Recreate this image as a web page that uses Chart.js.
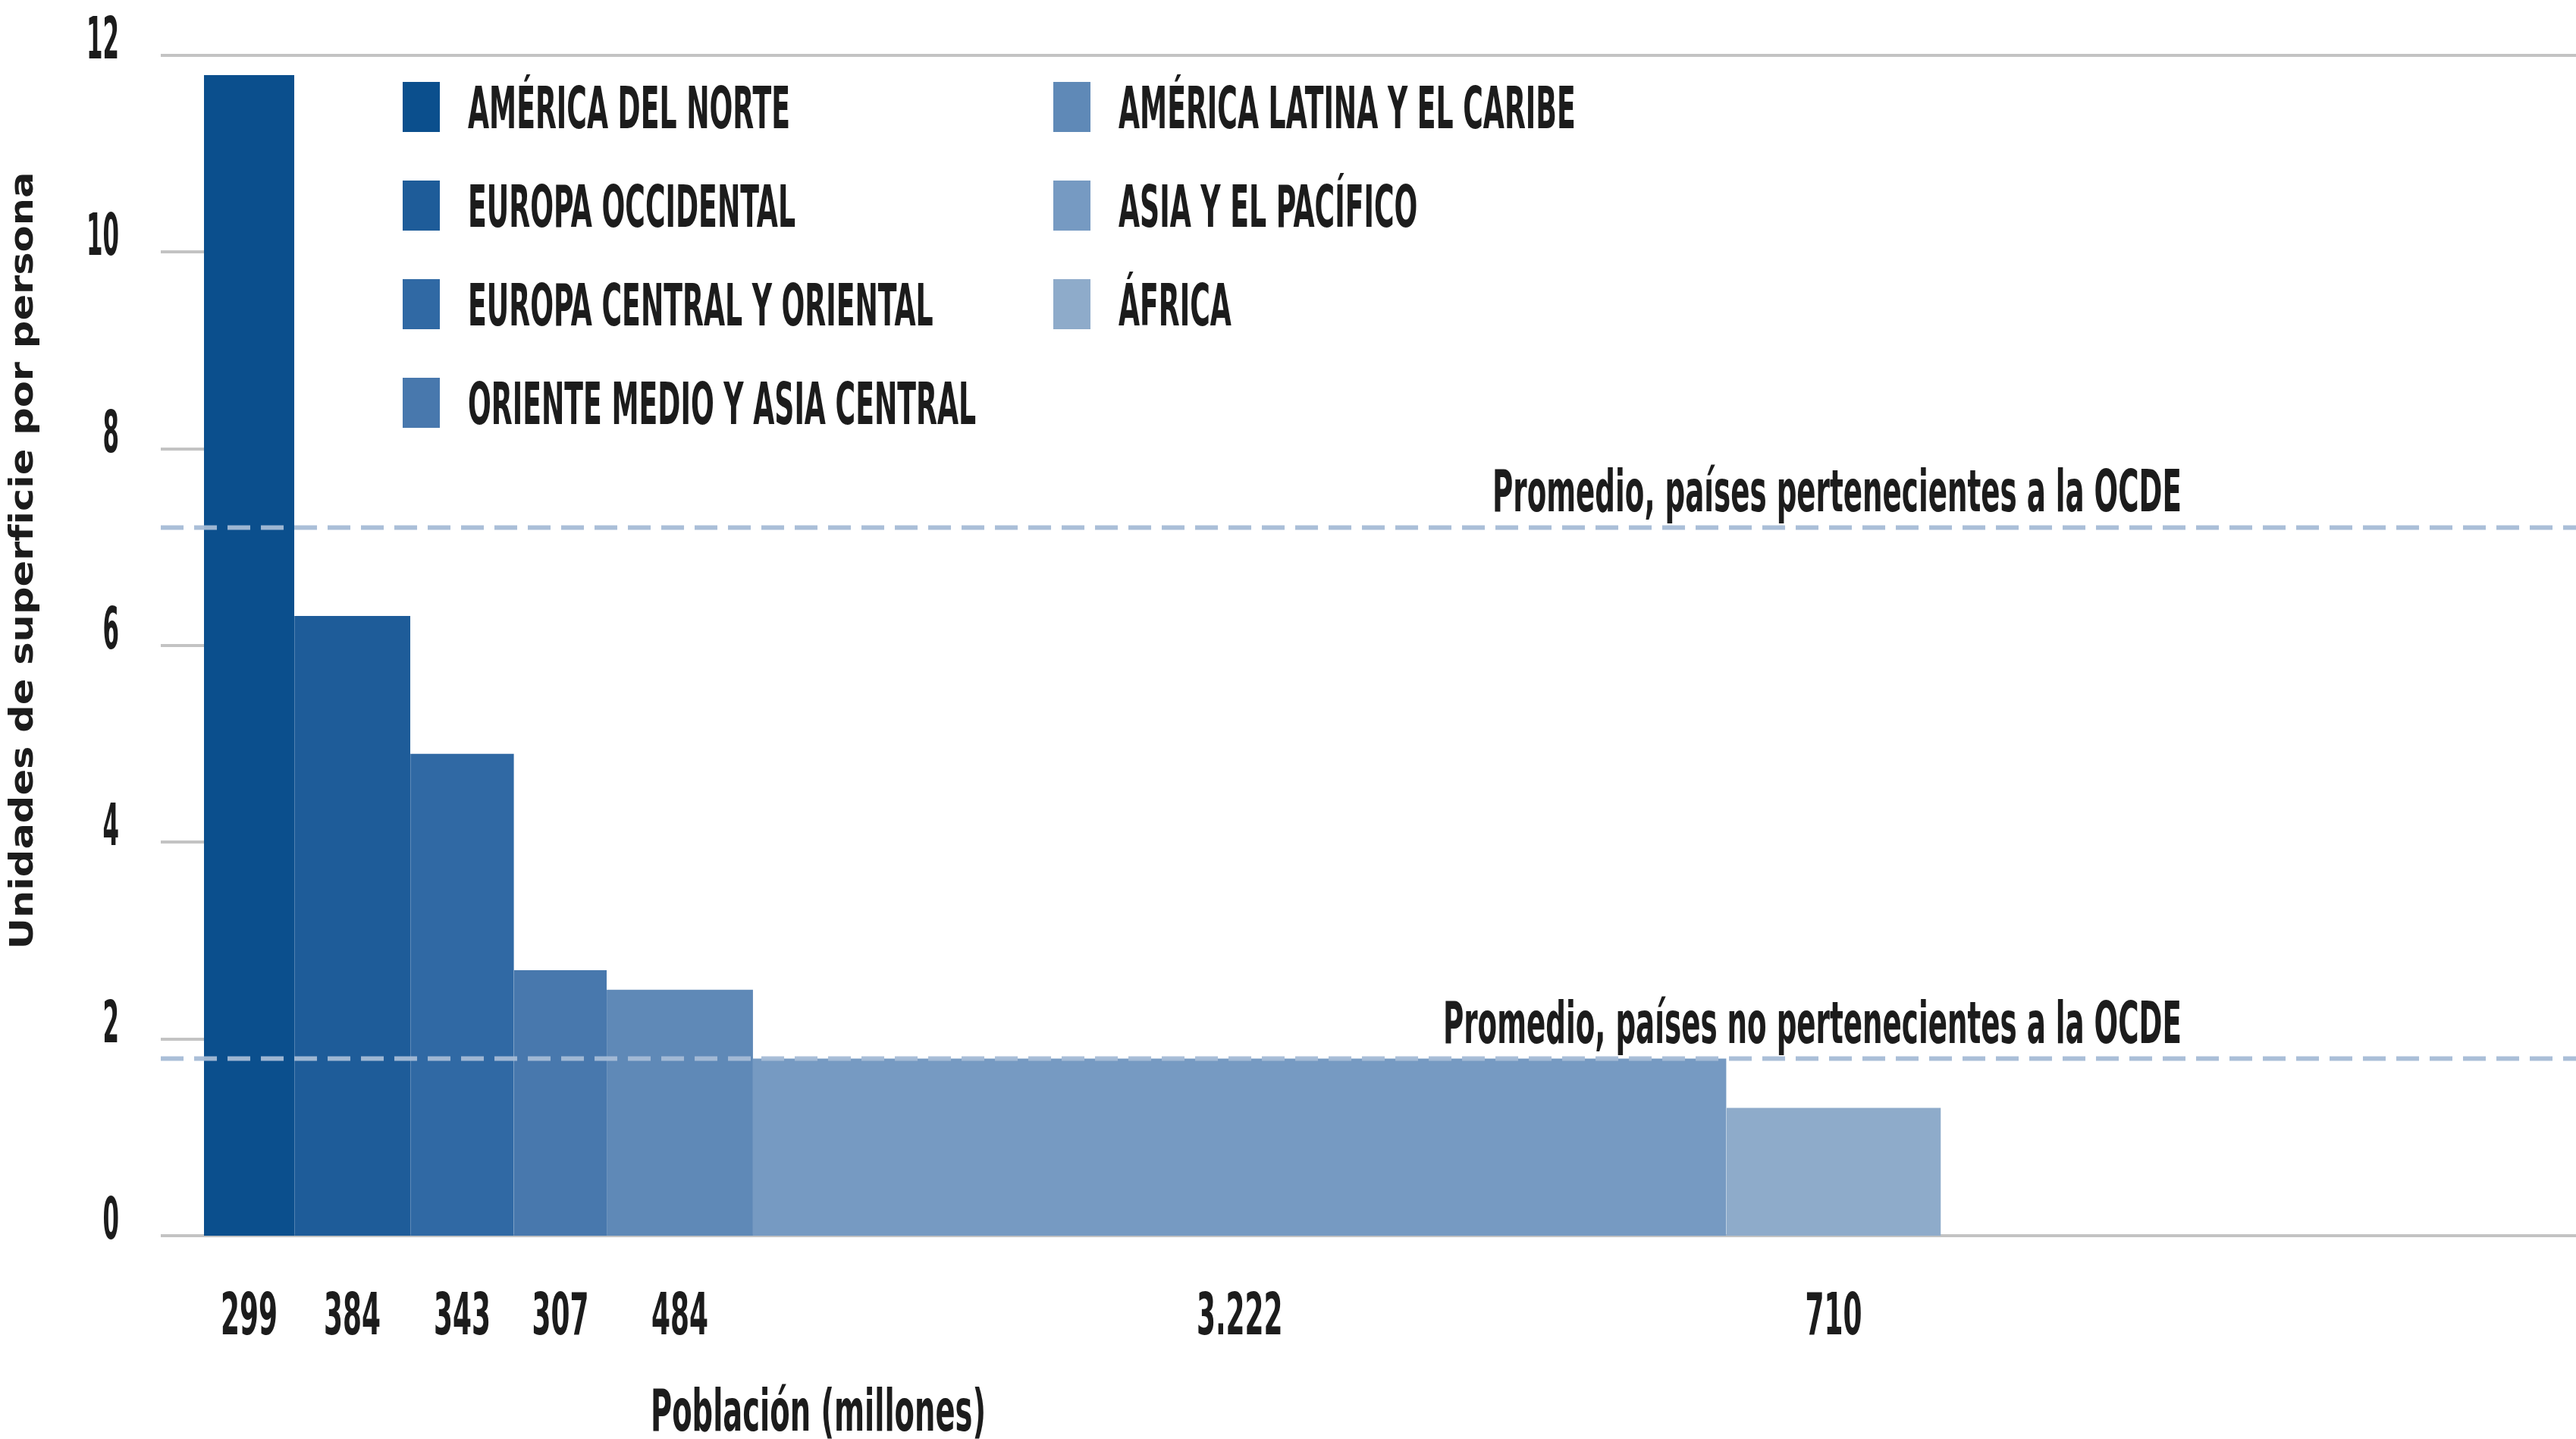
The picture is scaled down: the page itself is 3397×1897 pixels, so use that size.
<!DOCTYPE html>
<html lang="es">
<head>
<meta charset="utf-8">
<title>Unidades de superficie por persona</title>
<script src="https://cdn.jsdelivr.net/npm/chart.js@4.4.1/dist/chart.umd.min.js"></script>
<style>
    html, body { margin: 0; padding: 0; background: #fff; }
    #wrap { width: 3397px; height: 1897px; position: relative; }
</style>
</head>
<body>
<div id="wrap"><canvas id="chart"></canvas></div>
<script>
// Data
const regions = [
    'AMÉRICA DEL NORTE',
    'EUROPA OCCIDENTAL',
    'EUROPA CENTRAL Y ORIENTAL',
    'ORIENTE MEDIO Y ASIA CENTRAL',
    'AMÉRICA LATINA Y EL CARIBE',
    'ASIA Y EL PACÍFICO',
    'ÁFRICA'
];
const population = [299, 384, 343, 307, 484, 3222, 710];          // millones
const populationLabels = ['299', '384', '343', '307', '484', '3.222', '710'];
const areaPerPerson = [11.8, 6.3, 4.9, 2.7, 2.5, 1.8, 1.3];
const colors = ['#0b4f8d', '#1e5c99', '#3069a4', '#4878ad', '#5f89b7', '#769ac2', '#8eabca'];

const averageValues = [7.2, 1.8];
const averageLabels = ['Promedio, países pertenecientes a la OCDE', 'Promedio, países no pertenecientes a la OCDE'];

const yTicks = [0, 2, 4, 6, 8, 10, 12];
const yTitle = 'Unidades de superficie por persona';
const xTitle = 'Población (millones)';

const X_MAX = 7851;
const LINE_START = -143;   // dashed averages start a little left of the first bar
const FONT = '"Liberation Sans Narrow", "DejaVu Sans Condensed", "Liberation Sans", sans-serif';

// cumulative start of each region along the population axis
const starts = [];
population.reduce((acc, p) => { starts.push(acc); return acc + p; }, 0);

const barSets = regions.map((name, i) => ({
    label: name,
    data: [
        { x: starts[i], y: areaPerPerson[i] },
        { x: starts[i] + population[i], y: areaPerPerson[i] }
    ],
    backgroundColor: colors[i],
    borderWidth: 0,
    pointRadius: 0,
    fill: 'origin',
    order: 2
}));

const avgSets = averageValues.map((v, i) => ({
    label: averageLabels[i],
    data: [{ x: LINE_START, y: v }, { x: X_MAX, y: v }],
    borderColor: 'rgba(165, 188, 214, 0.95)',
    borderWidth: 6,
    borderDash: [30, 14],
    pointRadius: 0,
    fill: false,
    clip: { left: 60, top: 0, right: 0, bottom: 0 },
    order: 1
}));

function squeeze(ctx, ref, width) {
    return width / ctx.measureText(ref).width;
}

function drawText(ctx, text, x, y, align, sx) {
    ctx.save();
    ctx.translate(x, y);
    ctx.scale(sx, 1);
    ctx.textAlign = align;
    ctx.fillText(text, 0, 0);
    ctx.restore();
}

const textPlugin = {
    id: 'texts',
    afterDraw(chart) {
        const ctx = chart.ctx;
        const xs = chart.scales.x, ys = chart.scales.y;
        ctx.save();
        ctx.fillStyle = '#1c1c1c';
        ctx.textBaseline = 'alphabetic';
        ctx.font = 'bold 76px ' + FONT;

        // y tick labels
        let sx = squeeze(ctx, '12', 43);
        yTicks.forEach(v => {
            drawText(ctx, String(v), 157, ys.getPixelForValue(v) + 4, 'right', sx);
        });

        // population labels under each bar
        sx = squeeze(ctx, '299', 75);
        population.forEach((p, i) => {
            const cx = xs.getPixelForValue(starts[i] + p / 2);
            drawText(ctx, populationLabels[i], cx, 1759, 'center', sx);
        });

        // x title
        sx = squeeze(ctx, xTitle, 442);
        drawText(ctx, xTitle, 1079, 1886, 'center', sx);

        // average labels
        sx = squeeze(ctx, averageLabels[0], 909);
        averageValues.forEach((v, i) => {
            drawText(ctx, averageLabels[i], 2877, ys.getPixelForValue(v) - 21, 'right', sx);
        });

        // legend, two columns
        sx = squeeze(ctx, regions[0], 425);
        regions.forEach((name, i) => {
            const col = i < 4 ? 0 : 1;
            const row = i < 4 ? i : i - 4;
            const cy = 141 + row * 130;
            const bx = col === 0 ? 531 : 1389;
            ctx.fillStyle = colors[i];
            ctx.fillRect(bx, cy - 33, 49, 66);
            ctx.fillStyle = '#1c1c1c';
            drawText(ctx, name, bx + 86, cy + 28, 'left', sx);
        });

        // y title, rotated
        ctx.font = 'bold 42px "DejaVu Sans", sans-serif';
        sx = squeeze(ctx, yTitle, 1025);
        ctx.translate(32, 739);
        ctx.rotate(-Math.PI / 2);
        ctx.textBaseline = 'middle';
        drawText(ctx, yTitle, 0, 0, 'center', sx);
        ctx.restore();
    }
};

new Chart(document.getElementById('chart'), {
    type: 'line',
    data: { datasets: [...avgSets, ...barSets] },
    options: {
        responsive: true,
        maintainAspectRatio: false,
        animation: false,
        layout: { padding: { top: 73, bottom: 268, left: 0, right: 0 } },
        plugins: {
            legend: { display: false },
            tooltip: { enabled: false },
            title: { display: false }
        },
        scales: {
            x: {
                type: 'linear',
                min: 0,
                max: X_MAX,
                display: false
            },
            y: {
                min: 0,
                max: 12,
                afterBuildTicks: s => { s.ticks = yTicks.map(v => ({ value: v })); },
                afterFit: s => { s.width = 269; },
                border: { display: false },
                grid: {
                    color: c => (c.tick && (c.tick.value === 0 || c.tick.value === 12)) ? '#c3c3c3' : 'rgba(0,0,0,0)',
                    tickColor: '#c3c3c3',
                    lineWidth: 4,
                    drawTicks: true,
                    tickLength: 57
                },
                ticks: { display: false }
            }
        }
    },
    plugins: [textPlugin]
});
</script>
</body>
</html>
